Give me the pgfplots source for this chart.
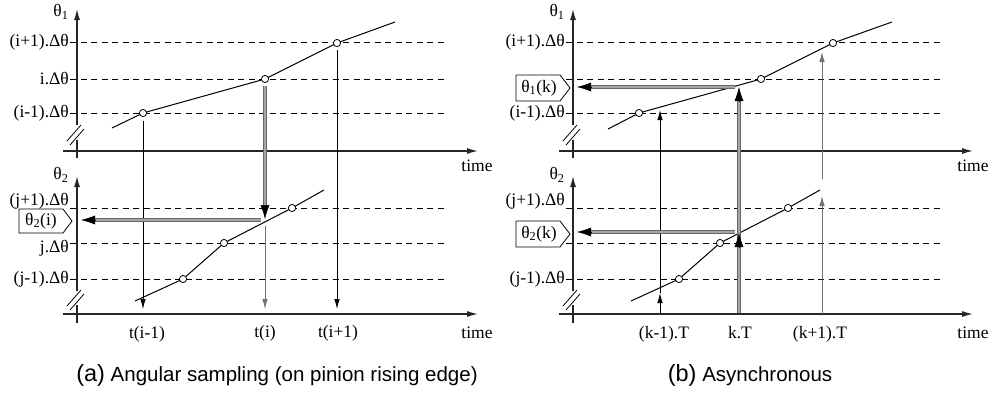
\documentclass[border=0pt]{standalone}
\usepackage{pgfplots}
\pgfplotsset{compat=1.18}
\usepackage{fontspec}
\setmainfont{Liberation Serif}
\newfontfamily\capfont{Liberation Sans}
\usetikzlibrary{arrows.meta}
\newcommand\labfont{\fontsize{17.5}{20}\selectfont}
\tikzset{lab/.style={font=\labfont, inner sep=1pt}}
\begin{document}
\begin{tikzpicture}
\begin{axis}[scale only axis, width=991pt, height=397pt,
  xmin=0, xmax=991, ymin=0, ymax=397, y dir=reverse,
  hide axis, clip=false,
  axisl/.style={line width=1.3pt, black!85},
  curve/.style={line width=1pt, black},
  dashl/.style={line width=0.8pt, black, dash pattern=on 6pt off 4.5pt},
  brk/.style={line width=0.8pt, black},
  pts/.style={only marks, mark=*, mark size=3.6pt, mark options={fill=white, draw=black, line width=0.8pt}},
  tarr/.style={line width=0.8pt, black, -{Latex[length=10pt,width=5.5pt]}},
  garr/.style={line width=0.8pt, black!55, -{Latex[length=10pt,width=5.5pt]}},
  shaft/.style={draw=black!60, double=black!35, double distance=2pt, line width=0.9pt},
  head/.style={line width=0.5pt, black, -{Latex[length=14pt,width=9pt]}},
  boxs/.style={draw=black, line width=0.8pt, fill=white},
]
\addplot[draw=none] coordinates {(0,0) (991,397)};

% ================= Panel (a) =================
\addplot[dashl] coordinates {(70,42) (445,42)};
\addplot[dashl] coordinates {(70,79) (445,79)};
\addplot[dashl] coordinates {(70,113) (445,113)};
\addplot[dashl] coordinates {(70,208) (445,208)};
\addplot[dashl] coordinates {(70,243) (445,243)};
\addplot[dashl] coordinates {(70,279) (445,279)};
\addplot[axisl, -{Latex[length=11pt,width=6pt]}] coordinates {(77,125) (77,9)};
\addplot[axisl] coordinates {(77,140) (77,158)};
\addplot[brk] coordinates {(67,141) (81,125)};
\addplot[brk] coordinates {(70,145) (84,129)};
\addplot[axisl, -{Latex[length=11pt,width=6pt]}] coordinates {(63,151) (478,151)};
\addplot[axisl, -{Latex[length=11pt,width=6pt]}] coordinates {(77,291) (77,176)};
\addplot[axisl] coordinates {(77,305) (77,323)};
\addplot[brk] coordinates {(67,306) (81,290)};
\addplot[brk] coordinates {(70,310) (84,294)};
\addplot[axisl, -{Latex[length=11pt,width=6pt]}] coordinates {(63,314) (478,314)};
\addplot[curve] coordinates {(112,128) (143,113) (265,79) (337,43) (395,22)};
\addplot[curve] coordinates {(135,301) (183,279) (224,243) (292,208) (324,190)};
\addplot[tarr] coordinates {(143,121) (143,309)};
\addplot[tarr] coordinates {(337,50) (337,309)};
\addplot[garr] coordinates {(265,226) (265,309)};
\addplot[shaft] coordinates {(265,86) (265,208)};
\addplot[head] coordinates {(265,205) (265,219)};
\addplot[shaft] coordinates {(261,220) (92,220)};
\addplot[head] coordinates {(95,220) (81,220)};
\addplot[pts] coordinates {(143,113) (265,79) (337,43)};
\addplot[pts] coordinates {(183,279) (224,243) (292,208)};
\addplot[boxs] coordinates {(19,209) (63,209) (72,221) (63,233) (19,233) (19,209)};
\node[lab] at (axis cs:41,221) {θ\textsubscript{2}(i)};
\node[lab, anchor=east] at (axis cs:70,42) {(i+1).Δθ};
\node[lab, anchor=east] at (axis cs:70,79) {i.Δθ};
\node[lab, anchor=east] at (axis cs:70,113) {(i-1).Δθ};
\node[lab, anchor=east] at (axis cs:70,201) {(j+1).Δθ};
\node[lab, anchor=east] at (axis cs:70,248) {j.Δθ};
\node[lab, anchor=east] at (axis cs:70,279) {(j-1).Δθ};
\node[lab] at (axis cs:61,12) {θ\textsubscript{1}};
\node[lab] at (axis cs:61,175) {θ\textsubscript{2}};
\node[lab] at (axis cs:477,166) {time};
\node[lab] at (axis cs:477,333) {time};
\node[lab] at (axis cs:147,334) {t(i-1)};
\node[lab] at (axis cs:265,333) {t(i)};
\node[lab] at (axis cs:338,333) {t(i+1)};
\node[font=\capfont\fontsize{20.5}{24}\selectfont] at (axis cs:277,375) {{\fontsize{23.5}{24}\selectfont(a)} Angular sampling (on pinion rising edge)};

% ================= Panel (b) =================
\addplot[dashl] coordinates {(566,42) (942,42)};
\addplot[dashl] coordinates {(566,79) (942,79)};
\addplot[dashl] coordinates {(566,113) (942,113)};
\addplot[dashl] coordinates {(566,208) (942,208)};
\addplot[dashl] coordinates {(566,243) (942,243)};
\addplot[dashl] coordinates {(566,279) (942,279)};
\addplot[axisl, -{Latex[length=11pt,width=6pt]}] coordinates {(573,125) (573,9)};
\addplot[axisl] coordinates {(573,140) (573,158)};
\addplot[brk] coordinates {(563,141) (577,125)};
\addplot[brk] coordinates {(566,145) (580,129)};
\addplot[axisl, -{Latex[length=11pt,width=6pt]}] coordinates {(559,151) (973,151)};
\addplot[axisl, -{Latex[length=11pt,width=6pt]}] coordinates {(573,291) (573,176)};
\addplot[axisl] coordinates {(573,305) (573,323)};
\addplot[brk] coordinates {(563,306) (577,290)};
\addplot[brk] coordinates {(566,310) (580,294)};
\addplot[axisl, -{Latex[length=11pt,width=6pt]}] coordinates {(559,314) (973,314)};
\addplot[curve] coordinates {(608,129) (639,113) (761,79) (833,43) (892,22)};
\addplot[curve] coordinates {(631,301) (679,279) (720,243) (788,208) (820,190)};
\addplot[tarr] coordinates {(660,314) (660,293)};
\addplot[tarr] coordinates {(660,293) (660,110)};
\addplot[garr] coordinates {(822,314) (822,196)};
\addplot[garr] coordinates {(822,179) (822,52)};
\addplot[shaft] coordinates {(739,313) (739,98)};
\addplot[head] coordinates {(739,247) (739,233)};
\addplot[head] coordinates {(739,101) (739,87)};
\addplot[shaft] coordinates {(735,87) (588,87)};
\addplot[head] coordinates {(591,87) (577,87)};
\addplot[shaft] coordinates {(735,232) (588,232)};
\addplot[head] coordinates {(591,232) (577,232)};
\addplot[pts] coordinates {(639,113) (761,79) (833,43)};
\addplot[pts] coordinates {(679,279) (720,243) (788,208)};
\addplot[boxs] coordinates {(516,75) (560,75) (570,88) (560,101) (516,101) (516,75)};
\node[lab] at (axis cs:539,88) {θ\textsubscript{1}(k)};
\addplot[boxs] coordinates {(516,221) (560,221) (570,234) (560,247) (516,247) (516,221)};
\node[lab] at (axis cs:539,234) {θ\textsubscript{2}(k)};
\node[lab, anchor=east] at (axis cs:566,42) {(i+1).Δθ};
\node[lab, anchor=east] at (axis cs:566,113) {(i-1).Δθ};
\node[lab, anchor=east] at (axis cs:566,201) {(j+1).Δθ};
\node[lab, anchor=east] at (axis cs:566,279) {(j-1).Δθ};
\node[lab] at (axis cs:557,12) {θ\textsubscript{1}};
\node[lab] at (axis cs:557,175) {θ\textsubscript{2}};
\node[lab] at (axis cs:973,166) {time};
\node[lab] at (axis cs:973,333) {time};
\node[lab] at (axis cs:664,334) {(k-1).T};
\node[lab] at (axis cs:740,333) {k.T};
\node[lab] at (axis cs:820,334) {(k+1).T};
\node[font=\capfont\fontsize{20.5}{24}\selectfont] at (axis cs:750,375) {{\fontsize{23.5}{24}\selectfont(b)} Asynchronous};
\end{axis}
\end{tikzpicture}
\end{document}
